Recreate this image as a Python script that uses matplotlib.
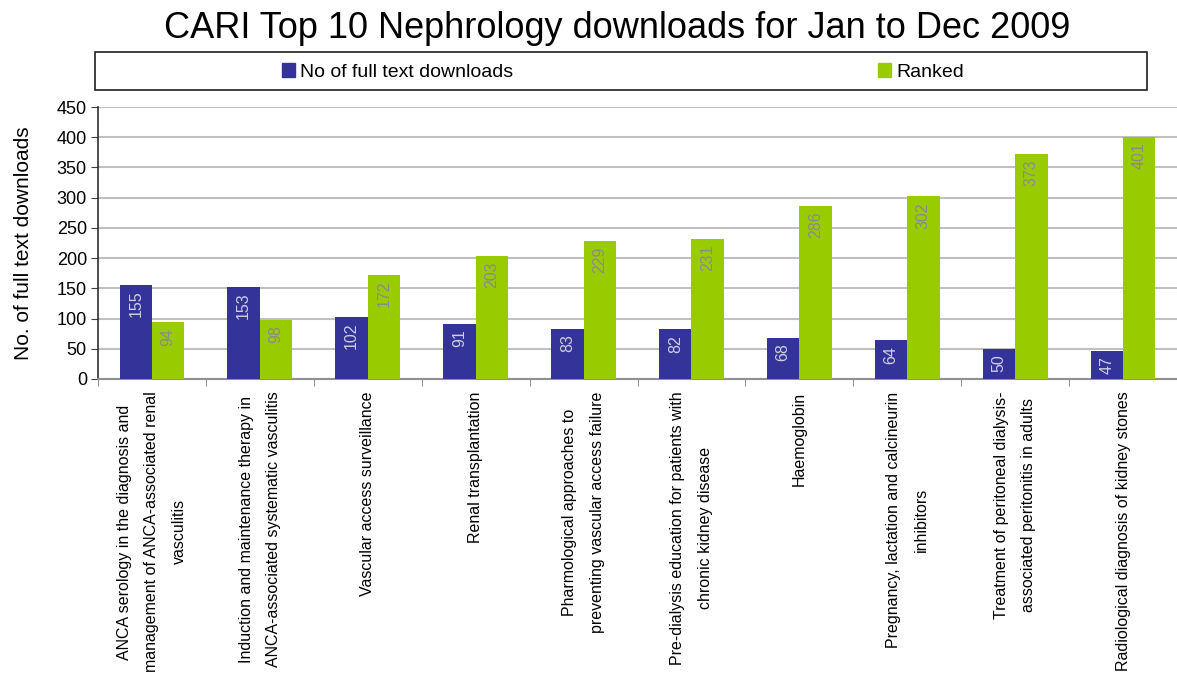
import matplotlib
matplotlib.use("Agg")
import matplotlib.pyplot as plt
import numpy as np
from matplotlib.patches import Rectangle, Patch

plt.rcParams['font.family'] = ['Liberation Sans', 'DejaVu Sans']

categories = [
    "ANCA serology in the diagnosis and\nmanagement of ANCA-associated renal\nvasculitis",
    "Induction and maintenance therapy in\nANCA-associated systematic vasculitis",
    "Vascular access surveillance",
    "Renal transplantation",
    "Pharmological approaches to\npreventing vascular access failure",
    "Pre-dialysis education for patients with\nchronic kidney disease",
    "Haemoglobin",
    "Pregnancy, lactation and calcineurin\ninhibitors",
    "Treatment of peritoneal dialysis-\nassociated peritonitis in adults",
    "Radiological diagnosis of kidney stones",
]
downloads = [155, 153, 102, 91, 83, 82, 68, 64, 50, 47]
ranked = [94, 98, 172, 203, 229, 231, 286, 302, 373, 401]
yticks = [0, 50, 100, 150, 200, 250, 300, 350, 400, 450]

BLUE = "#333399"
GREEN = "#99CC00"

fig = plt.figure(figsize=(11.77, 6.82), dpi=100)
ax = fig.add_axes([98/1177, 1-379/682, 1-98/1177, 272/682])

x = np.arange(len(categories))
w = 0.3
b1 = ax.bar(x - w/2, downloads, w, color=BLUE, zorder=3)
b2 = ax.bar(x + w/2, ranked, w, color=GREEN, zorder=3)

for rect, v in zip(b1, downloads):
    ax.annotate(str(v), (rect.get_x() + rect.get_width()/2, v), xytext=(0, -4),
                textcoords="offset points", rotation=90, ha="center", va="top",
                fontsize=11.5, color="#cfcfdc", zorder=4)
for rect, v in zip(b2, ranked):
    ax.annotate(str(v), (rect.get_x() + rect.get_width()/2, v), xytext=(0, -4),
                textcoords="offset points", rotation=90, ha="center", va="top",
                fontsize=11.5, color="#8a8a8a", zorder=4)

ax.set_xlim(-0.5, len(categories) - 0.5)
ax.set_ylim(0, 450)
ax.set_yticks(yticks)
ax.tick_params(axis="y", labelsize=13, length=5, direction="out", color="#404040", pad=3)
ax.set_xticks(x)
ax.set_xticklabels(categories, rotation=90, ha="center", va="top",
                   multialignment="center", fontsize=11.5, linespacing=2.05)
ax.tick_params(axis="x", length=0, pad=9)
ax.set_xticks(np.arange(len(categories) + 1) - 0.5, minor=True)
ax.tick_params(axis="x", which="minor", length=5, color="#808080", direction="out")

ax.grid(axis="y", color="#c0c0c0", linewidth=1.5, zorder=0)
ax.set_axisbelow(True)
for s in ["top", "right"]:
    ax.spines[s].set_visible(False)
ax.spines["left"].set_color("#303030")
ax.spines["left"].set_linewidth(1.2)
ax.spines["bottom"].set_color("#909090")
ax.spines["bottom"].set_linewidth(1.5)

ax.set_ylabel("No. of full text downloads", fontsize=15, labelpad=17)

fig.text(617/1177, 1-29/682, "CARI Top 10 Nephrology downloads for Jan to Dec 2009",
         ha="center", va="center", fontsize=26)

# legend frame
fig.patches.append(Rectangle((95/1177, 1-90/682), (1147-95)/1177, 38/682,
                             transform=fig.transFigure, fill=False,
                             edgecolor="#202020", linewidth=1.2))
handles = [Patch(color=BLUE, label="No of full text downloads"),
           Patch(color=GREEN, label="Ranked")]
fig.legend(handles=handles, loc="center", bbox_to_anchor=(623/1177, 1-72/682),
           ncol=2, frameon=False, fontsize=14, handlelength=0.67, handleheight=0.67,
           handletextpad=0.25, columnspacing=18.8)

fig.savefig("out.png", dpi=100)
